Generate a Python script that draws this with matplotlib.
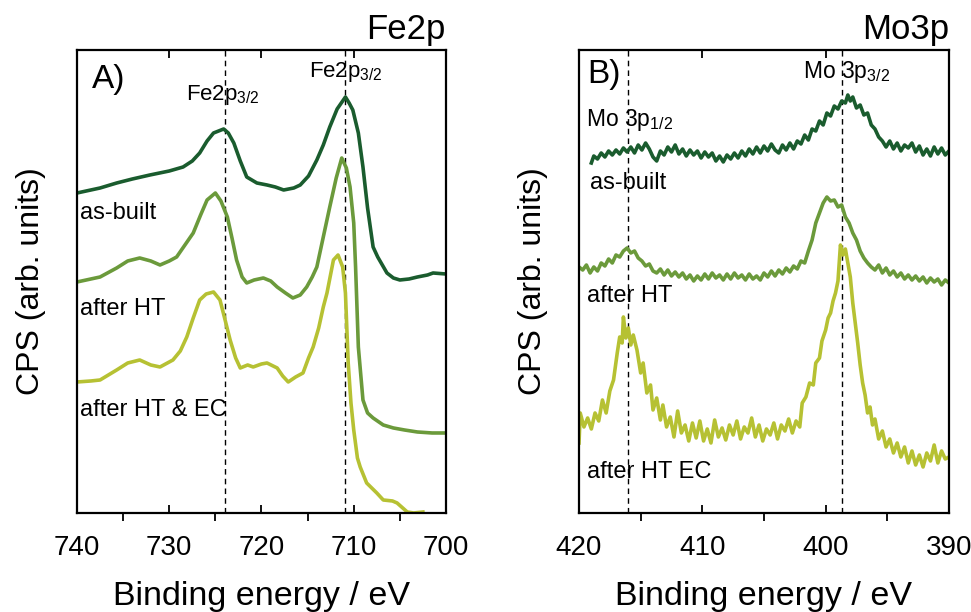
import matplotlib
matplotlib.use("Agg")
import matplotlib.pyplot as plt
from matplotlib.ticker import MultipleLocator

plt.rcParams['font.family'] = ['Liberation Sans', 'DejaVu Sans']
plt.rcParams['mathtext.fontset'] = 'custom'
plt.rcParams['mathtext.rm'] = 'Liberation Sans'
plt.rcParams['mathtext.it'] = 'Liberation Sans'

# ---------------- data ----------------
# Fe2p panel: binding energy (eV) and intensity (arb. units)
fe_asbuilt_e = [740, 737.5, 735.7, 734, 732.1, 730, 728.5, 727.5, 726.7, 725.9, 725.2, 724.1,
                723.6, 723.0, 722.3, 721.6, 720.5, 719.4, 718.5, 717.6, 716.5, 715.8, 714.9,
                714.0, 713.3, 712.6, 711.8, 710.9, 710.5, 710.1, 709.5, 709.0, 708.5, 707.9,
                707.4, 706.9, 706.4, 705.7, 705.0, 704, 703.1, 702, 701.4, 700]
fe_asbuilt_i = [320, 325, 330, 334, 338, 342, 346, 352, 360, 372, 380, 384,
                380, 370, 352, 336, 330, 328, 326, 323, 325, 328, 337,
                353, 368, 386, 404, 416, 410, 403, 380, 346, 305, 266,
                256, 248, 240, 235, 233, 234, 236, 238, 240, 239]

fe_ht_e = [740, 737.5, 735.7, 734.5, 733.2, 732, 731.0, 730, 729.2, 728.3, 727.4, 726.6,
           725.9, 725.0, 724.4, 723.7, 723.2, 722.7, 722.1, 721.6, 720.8, 719.8, 719,
           718.3, 717.4, 716.6, 715.8, 715.1, 714.5, 714.0, 713.3, 712.6, 711.9, 711.3,
           710.8, 710.4, 710.0, 709.8, 709.5, 709.0, 708.5, 707.9, 706.8, 705.7, 704.5,
           703.1, 701.5, 700]
fe_ht_i = [231, 236, 245, 252, 255, 252, 248, 252, 256, 268, 280, 298,
           313, 320, 312, 296, 275, 253, 236, 230, 233, 235, 232,
           226, 220, 215, 218, 226, 236, 246, 276, 306, 335, 355,
           345, 326, 290, 246, 166, 113, 100, 95, 88, 85, 83,
           81, 80, 80]

fe_htec_e = [740, 738.5, 737.5, 735.7, 734.5, 733.2, 732, 731.0, 729.6, 728.8, 728.1, 727.4,
             726.7, 726, 725.2, 724.5, 724, 723.4, 722.8, 722.3, 721.5, 720.9, 720,
             719.4, 718.3, 717.7, 717.1, 716.3, 715.5, 714.9, 714.4, 713.8, 713.3, 712.9,
             712.2, 711.7, 711.2, 710.9, 710.6, 710.3, 710.0, 709.6, 709.3, 708.6, 707.5,
             706.8, 705.8, 705.3, 704.2, 703.5, 702.5]
fe_htec_i = [131, 132, 133, 143, 150, 153, 148, 146, 153, 162, 176, 195,
             213, 219, 221, 213, 195, 173, 155, 145, 148, 146, 149,
             150, 145, 137, 131, 136, 140, 155, 166, 185, 206, 220,
             253, 258, 246, 220, 150, 110, 83, 55, 46, 30, 20,
             13, 12, 10, 1, 0, 1]

# Mo3p panel
mo_asbuilt_e = [419.0, 418.8, 418.5, 418.2, 417.9, 417.6, 417.3, 417.0, 416.7, 416.4, 416.1,
                415.8, 415.5, 415.2, 414.9, 414.6, 414.3, 414.0, 413.7, 413.4, 413.1, 412.8,
                412.5, 412.2, 411.9, 411.6, 411.3, 411.0, 410.7, 410.4, 410.1, 409.8, 409.5,
                409.2, 408.9, 408.6, 408.3, 408.0, 407.7, 407.4, 407.1, 406.8, 406.5, 406.2,
                405.9, 405.6, 405.3, 405.0, 404.7, 404.4, 404.1, 403.8, 403.5, 403.2, 402.9,
                402.6, 402.3, 402.0, 401.7, 401.4, 401.1, 400.8, 400.5, 400.2, 399.9, 399.6,
                399.3, 399.0, 398.7, 398.4, 398.2, 398.0, 397.8, 397.5, 397.2, 396.9, 396.6,
                396.3, 396.0, 395.7, 395.4, 395.1, 394.8, 394.5, 394.2, 393.9, 393.6, 393.3,
                393.0, 392.7, 392.4, 392.1, 391.8, 391.5, 391.2, 390.9, 390.6, 390.3, 390.0]
mo_asbuilt_i = [350, 357, 354, 360, 356, 362, 358, 363, 359, 365, 361,
                366, 360, 368, 363, 370, 364, 356, 352, 362, 358, 366,
                361, 368, 359, 364, 357, 363, 358, 362, 355, 361, 356,
                360, 352, 357, 351, 358, 354, 360, 355, 362, 357, 364,
                359, 366, 360, 367, 362, 369, 363, 360, 368, 363, 370,
                364, 372, 369, 378, 373, 384, 382, 392, 388, 400, 397,
                407, 404, 412, 410, 418, 412, 416, 405, 408, 398, 400,
                388, 384, 376, 372, 366, 372, 364, 370, 362, 368, 365,
                370, 361, 367, 358, 364, 357, 366, 359, 365, 358, 362]

mo_ht_e = [420.0, 419.7, 419.4, 419.1, 418.8, 418.5, 418.2, 417.9, 417.6, 417.3, 417.0,
           416.7, 416.4, 416.1, 415.8, 415.5, 415.2, 414.9, 414.6, 414.3, 414.0, 413.7,
           413.4, 413.1, 412.8, 412.5, 412.2, 411.9, 411.6, 411.3, 411.0, 410.7, 410.4,
           410.1, 409.8, 409.5, 409.2, 408.9, 408.6, 408.3, 408.0, 407.7, 407.4, 407.1,
           406.8, 406.5, 406.2, 405.9, 405.6, 405.3, 405.0, 404.7, 404.4, 404.1, 403.8,
           403.5, 403.2, 402.9, 402.6, 402.3, 402.0, 401.7, 401.4, 401.1, 400.8, 400.5,
           400.2, 399.9, 399.6, 399.3, 399.0, 398.7, 398.4, 398.1, 397.8, 397.5, 397.2,
           396.9, 396.6, 396.3, 396.0, 395.7, 395.4, 395.1, 394.8, 394.5, 394.2, 393.9,
           393.6, 393.3, 393.0, 392.7, 392.4, 392.1, 391.8, 391.5, 391.2, 390.9, 390.6,
           390.3, 390.0]
mo_ht_i = [246, 243, 248, 240, 246, 242, 250, 247, 254, 250, 258,
           256, 262, 265, 260, 262, 255, 252, 247, 249, 242, 240,
           244, 238, 243, 237, 241, 236, 240, 234, 238, 232, 237,
           233, 239, 234, 240, 235, 238, 233, 239, 234, 240, 235,
           238, 233, 239, 234, 237, 233, 240, 236, 242, 237, 243,
           239, 245, 241, 247, 244, 252, 250, 262, 273, 290, 300,
           310, 316, 312, 313, 306, 308, 296, 290, 280, 273, 262,
           255, 250, 246, 243, 248, 240, 245, 238, 242, 236, 240,
           234, 238, 233, 237, 232, 236, 230, 235, 231, 234, 228,
           233, 230]

mo_htec_e = [420.0, 419.9, 419.6, 419.3, 419.0, 418.7, 418.4, 418.1, 417.8, 417.5, 417.2,
             416.9, 416.7, 416.5, 416.4, 416.2, 416.0, 415.8, 415.6, 415.3, 415.0, 414.8,
             414.5, 414.2, 414.0, 413.7, 413.4, 413.2, 412.9, 412.6, 412.3, 412.0, 411.7,
             411.4, 411.1, 410.8, 410.5, 410.2, 409.9, 409.6, 409.3, 409.0, 408.7, 408.4,
             408.1, 407.8, 407.5, 407.2, 406.9, 406.6, 406.3, 406.0, 405.7, 405.4, 405.1,
             404.8, 404.5, 404.2, 403.9, 403.6, 403.3, 403.0, 402.7, 402.4, 402.1, 401.9,
             401.6, 401.3, 401.0, 400.8, 400.5, 400.3, 400.0, 399.8, 399.6, 399.4, 399.2,
             399.0, 398.9, 398.8, 398.6, 398.4, 398.2, 398.0, 397.8, 397.6, 397.4, 397.2,
             397.0, 396.8, 396.6, 396.4, 396.2, 396.0, 395.7, 395.4, 395.1, 394.8, 394.5,
             394.2, 393.9, 393.6, 393.3, 393.0, 392.7, 392.4, 392.1, 391.8, 391.5, 391.2,
             390.9, 390.6, 390.3, 390.0]
mo_htec_i = [70, 100, 86, 95, 84, 100, 92, 113, 100, 122, 133,
             160, 176, 170, 196, 175, 185, 168, 178, 163, 140, 150,
             120, 128, 103, 115, 93, 108, 86, 96, 76, 102, 80,
             88, 72, 90, 75, 92, 72, 84, 70, 93, 76, 85,
             73, 88, 78, 92, 74, 86, 80, 95, 76, 88, 72,
             84, 78, 90, 74, 88, 82, 94, 80, 92, 86, 110,
             116, 130, 128, 150, 155, 172, 183, 195, 200, 212, 220,
             232, 250, 268, 258, 264, 250, 236, 210, 190, 170, 148,
             130, 118, 100, 106, 88, 94, 74, 82, 66, 74, 60,
             70, 56, 66, 50, 62, 48, 58, 46, 60, 52, 68,
             50, 62, 54, 56]

fe_lines = [724, 711]
mo_lines = [416, 398.7]

c_dark = '#1a5c2e'
c_mid = '#6b9a3b'
c_light = '#b6c133'

fig = plt.figure(figsize=(9.71, 6.12), dpi=100)
ax1 = fig.add_axes([0.0793, 0.1618, 0.3800, 0.7565])
ax2 = fig.add_axes([0.5963, 0.1618, 0.3810, 0.7565])

lw = 2.6
ax1.plot(fe_asbuilt_e, fe_asbuilt_i, color=c_dark, lw=lw)
ax1.plot(fe_ht_e, fe_ht_i, color=c_mid, lw=lw)
ax1.plot(fe_htec_e, fe_htec_i, color=c_light, lw=lw)
ax2.plot(mo_asbuilt_e, mo_asbuilt_i, color=c_dark, lw=lw)
ax2.plot(mo_ht_e, mo_ht_i, color=c_mid, lw=lw)
ax2.plot(mo_htec_e, mo_htec_i, color=c_light, lw=lw)

for x in fe_lines:
    ax1.axvline(x, color='black', lw=1.0, ls=(0, (4, 3)), zorder=0)
for x in mo_lines:
    ax2.axvline(x, color='black', lw=1.0, ls=(0, (4, 3)), zorder=0)

ax1.set_xlim(740, 700)
ax2.set_xlim(420, 390)

for ax in (ax1, ax2):
    ax.set_ylim(0, 463)
    ax.set_yticks([])
    ax.xaxis.set_major_locator(MultipleLocator(10))
    ax.xaxis.set_minor_locator(MultipleLocator(5))
    ax.tick_params(axis='x', which='major', direction='in', length=6, width=1.3,
                   labelsize=20, pad=16, top=True)
    ax.tick_params(axis='x', which='minor', direction='out', length=6, width=1.3, top=False)
    for s in ax.spines.values():
        s.set_linewidth(1.6)
    ax.set_xlabel('Binding energy / eV', fontsize=24.5, labelpad=14)
    ax.set_ylabel('CPS (arb. units)', fontsize=23, labelpad=22)

ax1.set_title('Fe2p', loc='right', fontsize=25, pad=8)
ax2.set_title('Mo3p', loc='right', fontsize=25, pad=8)

ax1.text(738.4, 433, 'A)', fontsize=24, va='center', ha='left')
ax1.text(724.2, 418, r'Fe2p$_{3/2}$', fontsize=16, va='center', ha='center')
ax1.text(710.9, 441, r'Fe2p$_{3/2}$', fontsize=16, va='center', ha='center')
ax1.text(739.7, 300, 'as-built', fontsize=17, va='center', ha='left')
ax1.text(739.7, 204, 'after HT', fontsize=17, va='center', ha='left')
ax1.text(739.7, 103, 'after HT & EC', fontsize=17, va='center', ha='left')

ax2.text(419.3, 438, 'B)', fontsize=24, va='center', ha='left')
ax2.text(398.3, 441, r'Mo 3p$_{3/2}$', fontsize=16.5, va='center', ha='center')
ax2.text(419.4, 393, r'Mo 3p$_{1/2}$', fontsize=16.5, va='center', ha='left')
ax2.text(419.1, 330, 'as-built', fontsize=17, va='center', ha='left')
ax2.text(419.35, 217, 'after HT', fontsize=17, va='center', ha='left')
ax2.text(419.35, 41, 'after HT EC', fontsize=17, va='center', ha='left')

fig.savefig('out.png', dpi=100)
